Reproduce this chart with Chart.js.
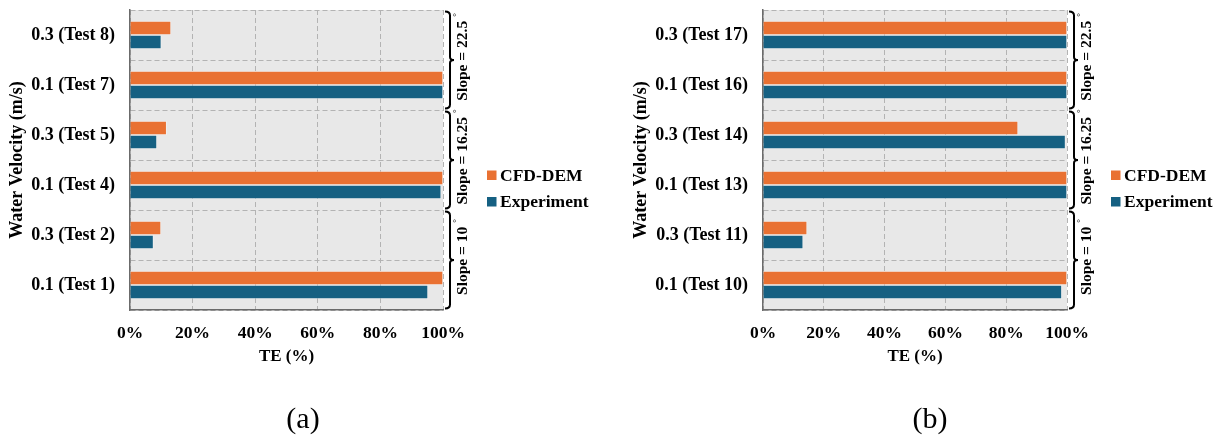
<!DOCTYPE html>
<html><head><meta charset="utf-8">
<script src="https://cdn.jsdelivr.net/npm/chart.js@4/dist/chart.umd.min.js"></script>
<style>
html,body{margin:0;padding:0;background:#fff;}
#wrap{position:relative;width:1216px;height:435px;overflow:hidden;}
.panel{position:absolute;top:0;width:608px;height:435px;}
</style></head><body>
<div id="wrap">
  <div class="panel" style="left:0"><canvas id="chartA" width="608" height="435"></canvas></div>
  <div class="panel" style="left:608px"><canvas id="chartB" width="608" height="435"></canvas></div>
</div>
<script>
// Series and categories (water velocity / test id), top to bottom
const seriesNames = ['CFD-DEM', 'Experiment'];
const seriesColors = ['#E97132', '#156082'];

const categoriesA = ['0.3 (Test 8)', '0.1 (Test 7)', '0.3 (Test 5)', '0.1 (Test 4)', '0.3 (Test 2)', '0.1 (Test 1)'];
const cfdA = [13.1, 100, 11.7, 100, 9.9, 100];
const expA = [10.0, 100, 8.6, 99.4, 7.5, 95.2];

const categoriesB = ['0.3 (Test 17)', '0.1 (Test 16)', '0.3 (Test 14)', '0.1 (Test 13)', '0.3 (Test 11)', '0.1 (Test 10)'];
const cfdB = [100, 100, 83.9, 100, 14.5, 100];
const expB = [100, 100, 99.5, 100, 13.2, 98.3];

// Slope groups, each spanning two categories, top to bottom
const slopeGroups = ['22.5', '16.25', '10'];
const xTickLabels = ['0%', '20%', '40%', '60%', '80%', '100%'];

const SERIF = "'Times New Roman', 'Liberation Serif', serif";

// Plot background, slope braces, legend and panel caption
const decorations = {
  id: 'decorations',
  beforeDraw(chart) {
    const {ctx, chartArea: a} = chart;
    ctx.save();
    ctx.fillStyle = '#e8e8e8';
    ctx.fillRect(a.left, a.top, a.right - a.left, a.bottom - a.top);
    ctx.restore();
  },
  afterDraw(chart, args, opts) {
    const {ctx, chartArea: a} = chart;
    const y = chart.scales.y;
    const step = y.getPixelForValue(1) - y.getPixelForValue(0);
    ctx.save();
    // braces
    const x0 = a.right + 7;
    ctx.strokeStyle = '#000';
    ctx.lineWidth = 2;
    slopeGroups.forEach((g, i) => {
      const y1 = y.getPixelForValue(i * 2) - step / 2 + 1.5;
      const y2 = y.getPixelForValue(i * 2 + 1) + step / 2 - 1.5;
      const ym = (y1 + y2) / 2;
      ctx.beginPath();
      ctx.moveTo(x0 - 5, y1);
      ctx.quadraticCurveTo(x0, y1, x0, y1 + 4);
      ctx.lineTo(x0, ym - 3);
      ctx.quadraticCurveTo(x0, ym, x0 + 4, ym);
      ctx.quadraticCurveTo(x0, ym, x0, ym + 3);
      ctx.lineTo(x0, y2 - 4);
      ctx.quadraticCurveTo(x0, y2, x0 - 5, y2);
      ctx.stroke();

      // rotated label with superscript degree sign
      const txt = 'Slope = ' + g;
      ctx.save();
      ctx.translate(a.right + 20, ym);
      ctx.rotate(-Math.PI / 2);
      ctx.font = 'bold 15.5px ' + SERIF;
      const w = ctx.measureText(txt).width;
      ctx.font = '9px ' + SERIF;
      const wd = ctx.measureText('°').width;
      const total = w + 4 + wd;
      ctx.fillStyle = '#000';
      ctx.textBaseline = 'middle';
      ctx.textAlign = 'left';
      ctx.font = 'bold 15.5px ' + SERIF;
      ctx.fillText(txt, -total / 2 + 3, 0);
      ctx.font = '9px ' + SERIF;
      ctx.fillText('°', -total / 2 + 3 + w + 4, -6);
      ctx.restore();
    });

    // legend
    ctx.font = 'bold 17.5px ' + SERIF;
    ctx.textBaseline = 'middle';
    ctx.textAlign = 'left';
    chart.data.datasets.forEach((ds, i) => {
      const cy = a.top + 165 + i * 26.5;
      const sx = a.right + 44;
      ctx.fillStyle = ds.backgroundColor;
      ctx.fillRect(sx, cy - 4.5, 9.5, 9.5);
      ctx.fillStyle = '#000';
      ctx.fillText(ds.label, sx + 13, cy + 1);
    });

    // caption
    ctx.font = '30px ' + SERIF;
    ctx.textAlign = 'center';
    ctx.fillStyle = '#000';
    ctx.fillText(opts.caption, opts.captionX, 420);
    ctx.restore();
  }
};

function makeChart(id, labels, cfd, exp, cfg) {
  return new Chart(document.getElementById(id), {
    type: 'bar',
    data: {
      labels: labels,
      datasets: [
        {label: seriesNames[0], data: cfd, backgroundColor: seriesColors[0], borderColor: 'rgba(255,255,255,0.35)', borderWidth: 1, borderSkipped: 'start'},
        {label: seriesNames[1], data: exp, backgroundColor: seriesColors[1], borderColor: 'rgba(255,255,255,0.35)', borderWidth: 1, borderSkipped: 'start'}
      ]
    },
    options: {
      indexAxis: 'y',
      responsive: false,
      animation: false,
      devicePixelRatio: 1,
      barThickness: 14,
      layout: {padding: {left: cfg.padLeft, right: cfg.padRight, top: 10, bottom: 0}},
      plugins: {
        legend: {display: false},
        tooltip: {enabled: false},
        decorations: {caption: cfg.caption, captionX: cfg.captionX}
      },
      scales: {
        x: {
          min: 0, max: 100,
          ticks: {
            stepSize: 20, autoSkip: false, maxRotation: 0, padding: 13,
            color: '#000', font: {family: SERIF, size: 17.5, weight: 'bold'},
            callback: (v) => xTickLabels[Math.round(v / 20)]
          },
          grid: {color: '#b3b3b3', lineWidth: 1, drawTicks: false},
          border: {display: true, color: '#6b6b6b', width: 1.5, dash: [5, 3]},
          title: {display: true, text: 'TE (%)', color: '#000',
            font: {family: SERIF, size: 17, weight: 'bold'}, padding: {top: 0, bottom: 68}},
          afterFit: (s) => { s.height = 125; s.paddingLeft = 0; s.paddingRight = 0; }
        },
        y: {
          ticks: {padding: 15, color: '#000', font: {family: SERIF, size: 18, weight: 'bold'}},
          grid: {color: '#b3b3b3', lineWidth: 1, drawTicks: false},
          border: {display: true, color: '#6b6b6b', width: 1.5, dash: [5, 3]},
          title: {display: true, text: 'Water Velocity (m/s)', color: '#000',
            font: {family: SERIF, size: 18, weight: 'bold'}, padding: {top: cfg.titlePad, bottom: 0}},
          afterFit: (s) => { s.width = cfg.yWidth; s.paddingTop = 0; s.paddingBottom = 0; }
        }
      }
    },
    plugins: [decorations]
  });
}

makeChart('chartA', categoriesA, cfdA, expA, {padLeft: 0, padRight: 165, yWidth: 130, titlePad: 7, caption: '(a)', captionX: 303});
makeChart('chartB', categoriesB, cfdB, expB, {padLeft: 0, padRight: 149, yWidth: 155, titlePad: 23, caption: '(b)', captionX: 322});
</script>
</body></html>
